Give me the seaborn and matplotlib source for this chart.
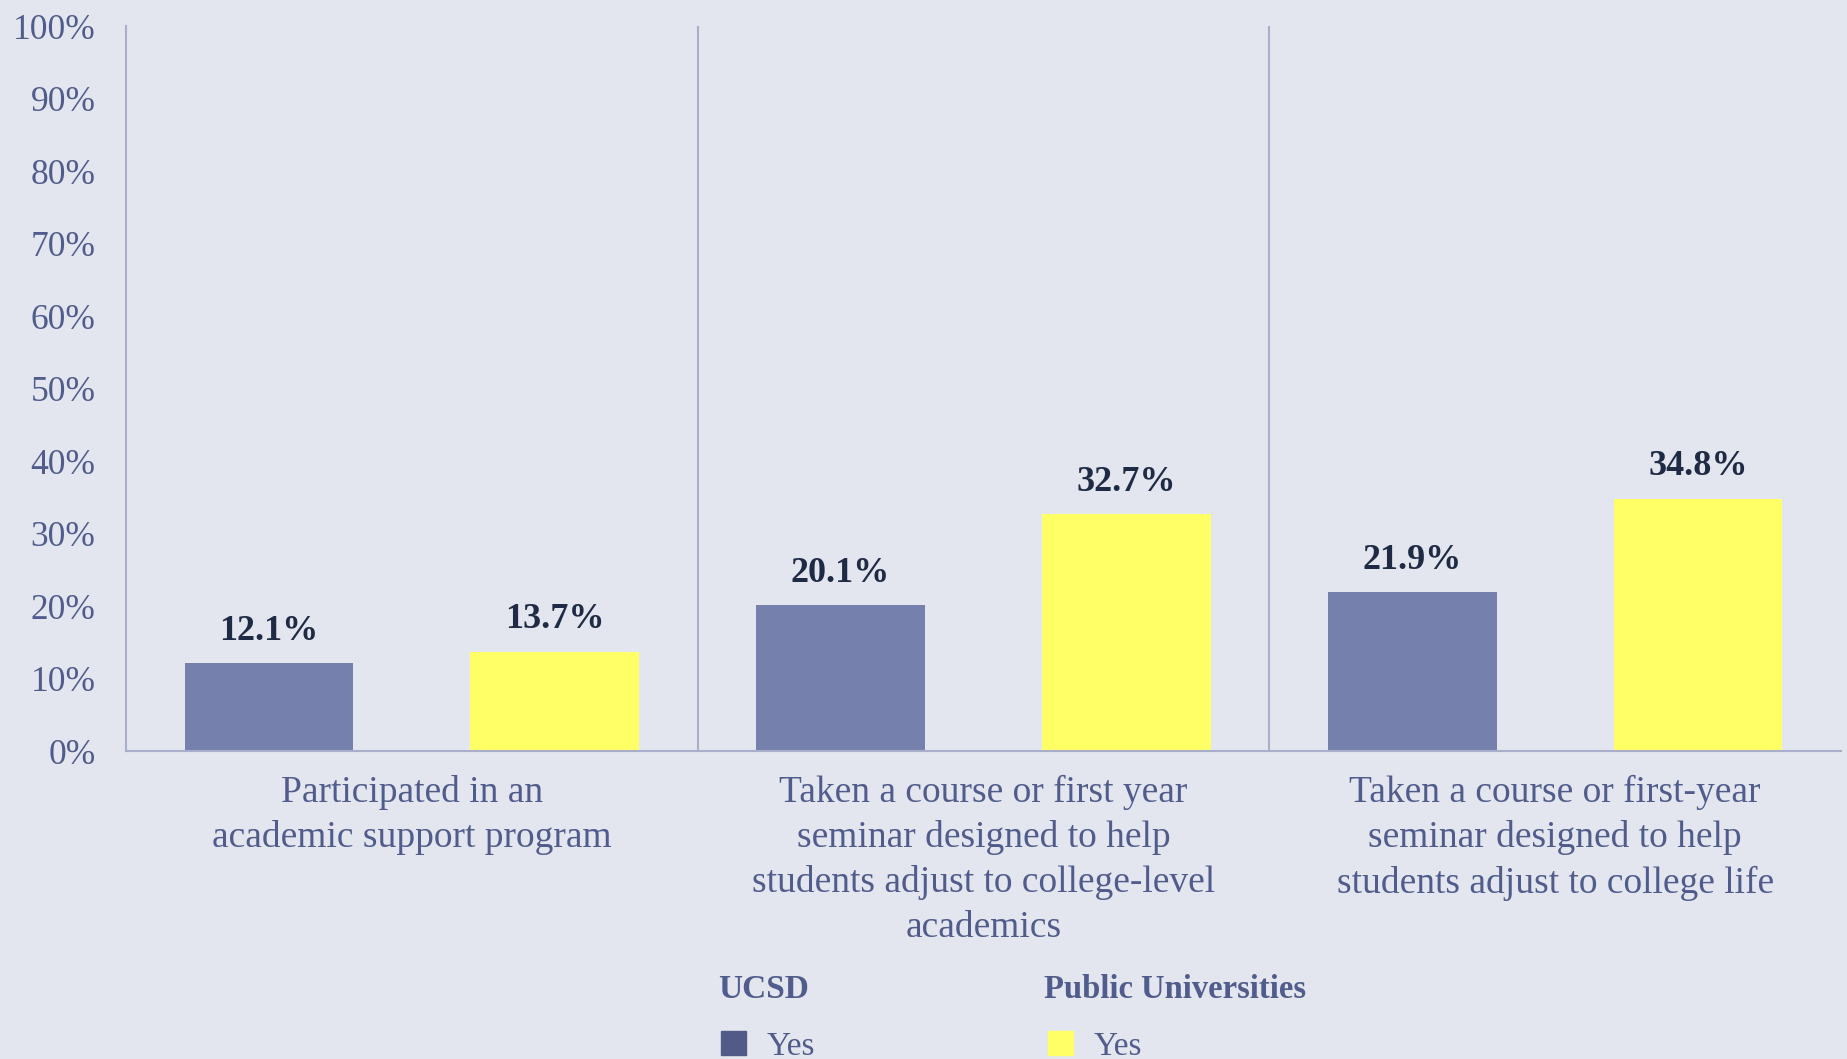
import numpy as np
import pandas as pd
import matplotlib
matplotlib.use("Agg")
import matplotlib.pyplot as plt
import seaborn as sns
from matplotlib.patches import Patch

# Data
categories = [
    "Participated in an\nacademic support program",
    "Taken a course or first year\nseminar designed to help\nstudents adjust to college-level\nacademics",
    "Taken a course or first-year\nseminar designed to help\nstudents adjust to college life",
]
groups = ["UCSD", "Public Universities"]
ucsd_yes = [12.1, 20.1, 21.9]
public_yes = [13.7, 32.7, 34.8]
y_ticks = list(range(0, 101, 10))

BG = "#e3e6ee"
BLUE = "#7680ac"
YELLOW = "#ffff66"
TXT = "#515c8c"
LINE = "#a9aecb"

df = pd.DataFrame({
    "category": categories * 2,
    "group": [groups[0]] * 3 + [groups[1]] * 3,
    "value": ucsd_yes + public_yes,
})

sns.set_theme(style="white")
plt.rcParams["font.family"] = ["Liberation Serif", "DejaVu Serif"]

fig = plt.figure(figsize=(18.47, 10.59), dpi=100, facecolor=BG)
ax = fig.add_axes([0.0682, 0.2908, 0.9286, 0.6846])
ax.set_facecolor(BG)

sns.barplot(data=df, x="category", y="value", hue="group", order=categories,
            hue_order=groups, palette=[BLUE, YELLOW], width=1.0, gap=0.41,
            saturation=1, linewidth=0, legend=False, ax=ax)

# value labels
for cont in ax.containers:
    ax.bar_label(cont, labels=[f"{v.get_height():.1f}%" for v in cont],
                 padding=11, fontsize=26, fontweight="bold", color="#1f2b45")

ax.set_xlim(-0.5, 2.5)
ax.set_ylim(0, 100)
ax.set_yticks(y_ticks)
ax.set_yticklabels([f"{t}%" for t in y_ticks])
ax.tick_params(axis="y", length=0, pad=22, labelsize=25.5, labelcolor=TXT)
ax.tick_params(axis="x", length=0, pad=17, labelsize=27, labelcolor=TXT)
for lab in ax.get_xticklabels():
    lab.set_linespacing(1.38)
ax.set_xlabel("")
ax.set_ylabel("")

for s in ["top", "right"]:
    ax.spines[s].set_visible(False)
for s in ["left", "bottom"]:
    ax.spines[s].set_color(LINE)
    ax.spines[s].set_linewidth(1.5)
for xv in [0.5, 1.5]:
    ax.axvline(xv, color=LINE, lw=1.5, zorder=0)

# legend: bold group titles with one entry under each
leg_kw = dict(frameon=False, loc="center left", fontsize=24, labelcolor=TXT,
              handlelength=0.75, handleheight=0.75, handletextpad=0.6,
              borderpad=0, borderaxespad=0)
fig.text(0.3887, 0.0656, groups[0], fontsize=24, fontweight="bold", color=TXT, va="center")
fig.text(0.5655, 0.0656, groups[1], fontsize=23.5, fontweight="bold", color=TXT, va="center")
fig.legend(handles=[Patch(color="#525b87")], labels=["Yes"],
           bbox_to_anchor=(0.3905, 0.012), **leg_kw)
fig.legend(handles=[Patch(color=YELLOW)], labels=["Yes"],
           bbox_to_anchor=(0.5675, 0.012), **leg_kw)

fig.savefig("out.png", dpi=100, facecolor=BG)
